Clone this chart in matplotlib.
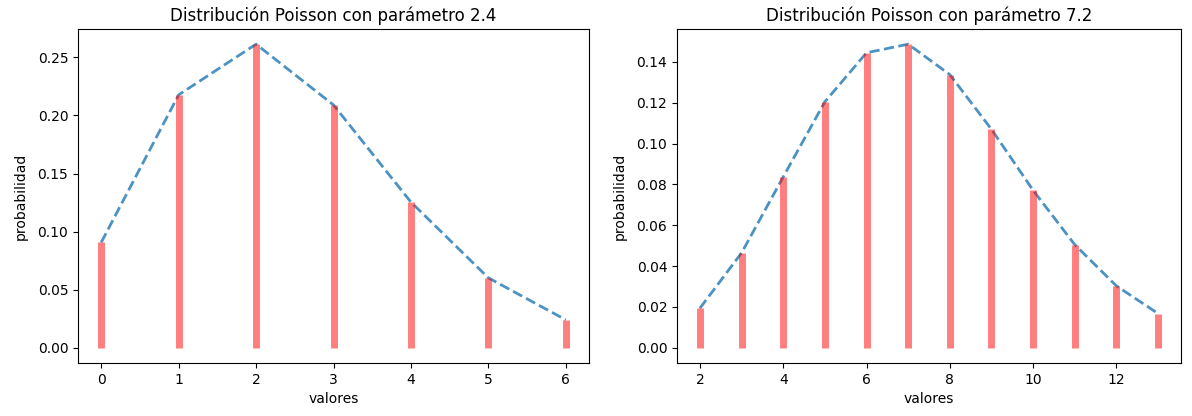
import numpy as np
import matplotlib.pyplot as plt

mu_a = 2.4
x_a = [0, 1, 2, 3, 4, 5, 6]
p_a = [0.0907, 0.2177, 0.2613, 0.2090, 0.1254, 0.0602, 0.0241]

mu_b = 7.2
x_b = [2, 3, 4, 5, 6, 7, 8, 9, 10, 11, 12, 13]
p_b = [0.0194, 0.0465, 0.0837, 0.1205, 0.1445, 0.1487,
       0.1338, 0.1070, 0.0771, 0.0505, 0.0303, 0.0168]

W, H, DPI = 1192, 416, 100
fig = plt.figure(figsize=(W / DPI, H / DPI), dpi=DPI)

ax1 = fig.add_axes([78 / W, 1 - 363 / H, (589 - 78) / W, (363 - 29) / H])
ax2 = fig.add_axes([677 / W, 1 - 363 / H, (1181 - 677) / W, (363 - 29) / H])

for ax, x, p, mu in [(ax1, x_a, p_a, mu_a), (ax2, x_b, p_b, mu_b)]:
    ax.plot(x, p, '--', color='#1f77b4', alpha=0.8, lw=2)
    ax.vlines(x, 0, p, colors='r', lw=5, alpha=0.5)
    ax.set_title('Distribución Poisson con parámetro {}'.format(mu), fontsize=12)
    ax.set_ylabel('probabilidad', fontsize=10, labelpad=7)
    ax.set_xlabel('valores', fontsize=10)
    ax.tick_params(labelsize=10)

fig.savefig('out.png', dpi=DPI)
